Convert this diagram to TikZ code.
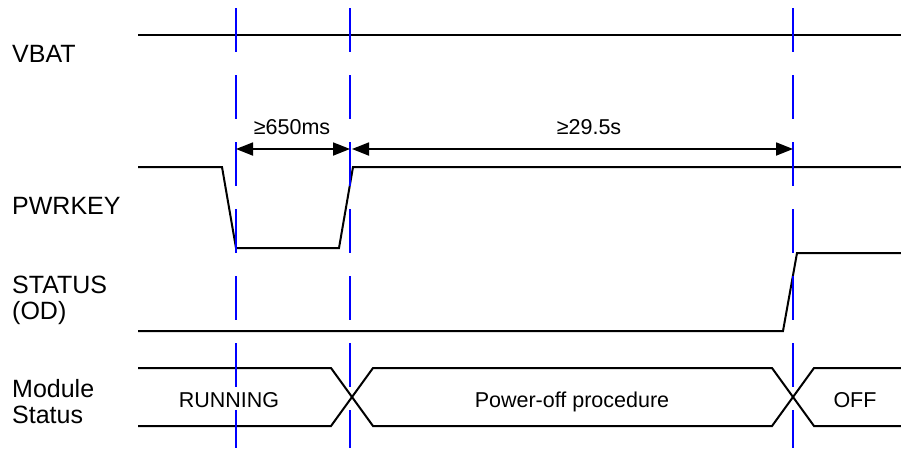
\documentclass[tikz,border=0pt]{standalone}
\usepackage{fontspec}
\setmainfont{Liberation Sans}
\usetikzlibrary{arrows.meta}
\begin{document}
\begin{tikzpicture}[x=1pt,y=-1pt,
  sig/.style={line width=2pt, line join=miter},
  marker/.style={draw=blue, line width=2pt, dash pattern=on 44pt off 23pt},
  dim/.style={line width=1.8pt, {Triangle[length=17pt,width=13pt]}-{Triangle[length=17pt,width=13pt]}},
  lbl/.style={font=\fontsize{25}{26}\selectfont, anchor=base west, inner sep=0pt},
  txt/.style={font=\fontsize{21.5}{24}\selectfont, anchor=base, inner sep=0pt}]
\useasboundingbox (0,0) rectangle (901,448);

% left labels
\node[lbl] (vbat) at (12,62) {VBAT};
\node[lbl] (pwrkey) at (12,214) {PWRKEY};
\node[lbl] (status1) at (12,293) {STATUS};
\node[lbl] (status2) at (12,319) {(OD)};
\node[lbl] (module1) at (12,397) {Module};
\node[lbl] (module2) at (12,423) {Status};

% VBAT
\draw[sig] (138,35) -- (901,35);

% PWRKEY
\draw[sig] (138,167) -- (222,167) -- (236,248) -- (339,248) -- (353,167) -- (901,167);

% STATUS
\draw[sig] (138,331) -- (783,331) -- (797,253) -- (901,253);

% Module status bus
\draw[sig] (138,368) -- (331,368) -- (373,426) -- (772,426) -- (814,368) -- (901,368);
\draw[sig] (138,426) -- (331,426) -- (373,368) -- (772,368) -- (814,426) -- (901,426);

\node[txt] (running) at (229,407) {RUNNING};
\node[txt] (poweroff) at (572,407) {Power-off procedure};
\node[txt] (off) at (855,407) {OFF};

% markers
\coordinate (m1t) at (236,8);  \coordinate (m1b) at (236,448);
\coordinate (m2t) at (350,8);  \coordinate (m2b) at (350,448);
\coordinate (m3t) at (793,8);  \coordinate (m3b) at (793,448);
\draw[marker] (m1t) -- (m1b);
\draw[marker] (m2t) -- (m2b);
\draw[marker] (m3t) -- (m3b);

% dimensions
\coordinate (d1) at (236,149);
\coordinate (d2) at (350,149);
\coordinate (d3) at (352,149);
\coordinate (d4) at (793,149);
\draw[dim] (d1) -- (d2);
\draw[dim] (d3) -- (d4);
\node[txt] (t650) at (292,134) {≥650ms};
\node[txt] (t295) at (589,134) {≥29.5s};
\end{tikzpicture}
\end{document}
